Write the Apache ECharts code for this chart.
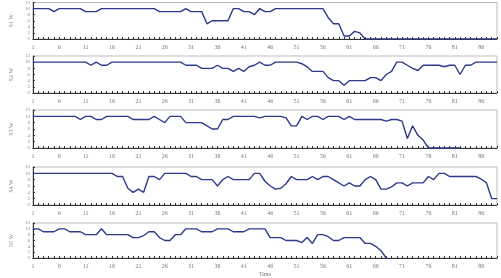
<!DOCTYPE html>
<html>
<head>
<meta charset="utf-8">
<script src="https://cdn.jsdelivr.net/npm/echarts@6/dist/echarts.min.js"></script>
<style>html,body{margin:0;padding:0;background:#fff}#c{width:501px;height:278px}</style>
</head>
<body>
<div id="c"></div>
<script>
const categories = [1,2,3,4,5,6,7,8,9,10,11,12,13,14,15,16,17,18,19,20,21,22,23,24,25,26,27,28,29,30,31,32,33,34,35,36,37,38,39,40,41,42,43,44,45,46,47,48,49,50,51,52,53,54,55,56,57,58,59,60,61,62,63,64,65,66,67,68,69,70,71,72,73,74,75,76,77,78,79,80,81,82,83,84,85,86,87,88,89];
const yTicks = [0,2,4,6,8,10,12];
const seriesNames = ["S1 W","S2 W","S3 W","S4 W","S5 W"];
const xAxisName = "Time";
const s1 = [10,10,10,10,9,10,10,10,10,10,
  9,9,9,10,10,10,10,10,10,10,
  10,10,10,10,9,9,9,9,9,10,
  9,9,9,5,6,6,6,6,10,10,
  9,9,8,10,9,9,10,10,10,10,
  10,10,10,10,10,10,7,5,5,1,
  1,2.5,2,0,0,0,0,0,0,0,
  0,0,0,0,0,0,0,0,0,0,
  0,0,0,0,0,0,0,0,0];
const s2 = [10,10,10,10,10,10,10,10,10,10,
  10,9,10,9,9,10,10,10,10,10,
  10,10,10,10,10,10,10,10,10,9,
  9,9,8,8,8,9,8,8,7,8,
  7,8.5,9,10,9,9,10,10,10,10,
  10,9.5,8.5,7,7,7,5,4,4,2.5,
  4,4,4,4,5,5,4,6,7,10,
  10,9,8,7.3,9,9,9,9,8.5,9,
  9,6,9,9,10,10,10,10,10];
const s3 = [10,10,10,10,10,10,10,10,10,9,
  10,10,9,9,10,10,10,10,10,9,
  9,9,9,10,9,8,10,10,10,8,
  8,8,8,7,6,6,9,9,10,10,
  10,10,10,9.5,10,10,10,10,9.5,7,
  7,10,9,10,10,9,10,10,10,9,
  10,9,9,9,9,9,9,8.5,9,9,
  8.5,3,7,4,2.5,0,0,0,0,0,
  0,0,null,null,null,null,null,null,null];
const s4 = [10,10,10,10,10,10,10,10,10,10,
  10,10,10,10,10,10,9,9,5.3,4,
  5,4,9,9,8,10,10,10,10,10,
  9,9,8,8,8,6,8,9,8,8,
  8,8,10,10,7.5,6,5,5.3,6.7,9,
  8,8,8,9,8,9,9,8,7,6,
  7,6,6,8,9,8,5,5,5.7,7,
  7,6,7,7,7,9,8,10,10,9,
  9,9,9,9,9,8.2,7,2,2];
const s5 = [10,10,9,9,9,10,10,9,9,9,
  8,8,8,10,8,8,8,8,8,7,
  7,7.7,9,9,7,6,6,8,8,10,
  10,10,9,9,9,10,10,10,9,9,
  9,10,10,10,10,7,7,7,6,6,
  6,5.3,7,5,8,8,7.3,6,6,7,
  7,7,7,5,5,4,2.5,0,null,null,
  null,null,null,null,null,null,null,null,null,null,
  null,null,null,null,null,null,null,null,null];

const allSeries = [s1,s2,s3,s4,s5];
const panelTops = [2,56,110,167,223];
const panelHeights = [37,37,38,38,36];
const font = "Liberation Serif";

const grids = [], xAxes = [], yAxes = [], series = [];
allSeries.forEach((d,i)=>{
  grids.push({left:17, width:480, top:panelTops[i], height:panelHeights[i],
    show:true, borderColor:'#bdbdbd', borderWidth:1, backgroundColor:'#fff'});
  xAxes.push({type:'category', gridIndex:i, data:categories, boundaryGap:false,
    axisLine:{lineStyle:{color:'#333', width:1}},
    axisTick:{interval:0, length:2, inside:true, lineStyle:{color:'#333'}},
    axisLabel:{interval:4, fontSize:6, color:'#777', fontFamily:font, margin:5},
    name: i===4 ? xAxisName : '', nameLocation:'middle', nameGap:13,
    nameTextStyle:{fontSize:6, color:'#777', fontFamily:font}});
  yAxes.push({type:'value', gridIndex:i, min:yTicks[0], max:yTicks[yTicks.length-1], interval:2,
    axisLine:{show:true, lineStyle:{color:'#333', width:1}},
    axisTick:{show:true, length:2, inside:true, lineStyle:{color:'#333'}},
    axisLabel:{fontSize:5, color:'#888', fontFamily:font, margin:3},
    splitLine:{show:false},
    name:seriesNames[i], nameLocation:'middle', nameGap:10, nameRotate:90,
    nameTextStyle:{fontSize:6, color:'#888', fontFamily:font}});
  series.push({type:'line', xAxisIndex:i, yAxisIndex:i, data:d, showSymbol:false, symbol:'none',
    connectNulls:false, lineStyle:{color:'#2e3a8c', width:1.4}, itemStyle:{color:'#2e3a8c'}});
});

const chart = echarts.init(document.getElementById('c'), null, {renderer:'canvas'});
chart.setOption({animation:false, backgroundColor:'#fff', grid:grids, xAxis:xAxes, yAxis:yAxes, series:series});
</script>
</body>
</html>
